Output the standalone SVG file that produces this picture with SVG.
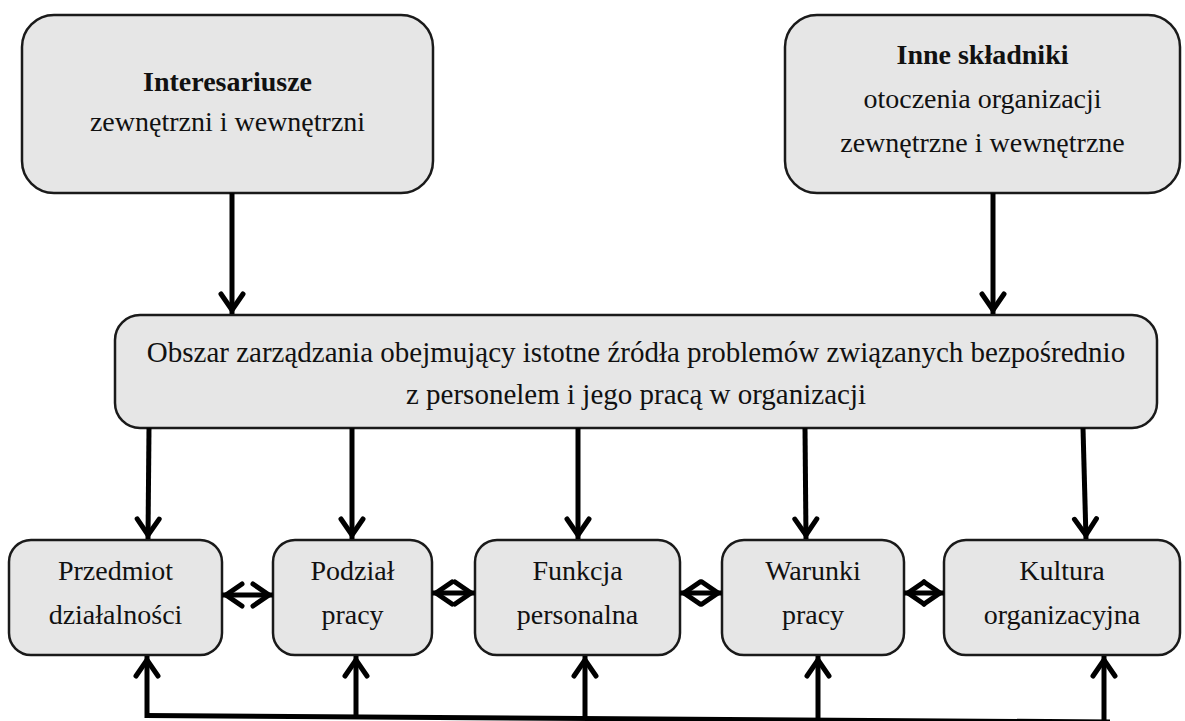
<svg xmlns="http://www.w3.org/2000/svg" width="1185" height="721" viewBox="0 0 1185 721">
  <defs>
    <style>
      .box { fill: #e6e6e6; stroke: #1a1a1a; stroke-width: 2.5; }
      .t { font-family: "Liberation Serif", "Times New Roman", serif; font-size: 28px; fill: #111; text-anchor: middle; }
      .b { font-weight: bold; }
      .m { font-size: 29px; }
      .wire { fill: none; stroke: #000; stroke-width: 5; }
      .arr { marker-end: url(#head); }
      .dbl { marker-start: url(#head); marker-end: url(#head); }
    </style>
    <marker id="head" viewBox="-24 -15 28 30" refX="0" refY="0" markerWidth="28" markerHeight="30" markerUnits="userSpaceOnUse" orient="auto-start-reverse" overflow="visible">
      <path d="M-20,-11 L-4,0 L-20,11" fill="none" stroke="#000" stroke-width="5" stroke-linecap="round" stroke-linejoin="miter"/>
    </marker>
  </defs>

  <!-- upper sources -->
  <g id="interesariusze">
    <rect class="box" x="22" y="15" width="411" height="178" rx="32"/>
    <text class="t b" x="227.5" y="91">Interesariusze</text>
    <text class="t" x="227.5" y="131">zewnętrzni i wewnętrzni</text>
  </g>
  <g id="inne-skladniki">
    <rect class="box" x="785" y="15" width="395" height="178" rx="32"/>
    <text class="t b" x="982.5" y="64">Inne składniki</text>
    <text class="t" x="982.5" y="108">otoczenia organizacji</text>
    <text class="t" x="982.5" y="152">zewnętrzne i wewnętrzne</text>
  </g>

  <!-- central management area -->
  <g id="obszar">
    <rect class="box" x="115" y="315" width="1042" height="113" rx="25"/>
    <text class="t m" x="636" y="362">Obszar zarządzania obejmujący istotne źródła problemów związanych bezpośrednio</text>
    <text class="t m" x="636" y="404">z personelem i jego pracą w organizacji</text>
  </g>

  <!-- lower areas -->
  <g id="przedmiot">
    <rect class="box" x="9" y="540" width="213" height="115" rx="22"/>
    <text class="t" x="115.5" y="580">Przedmiot</text>
    <text class="t" x="115.5" y="624">działalności</text>
  </g>
  <g id="podzial">
    <rect class="box" x="273" y="540" width="159" height="115" rx="22"/>
    <text class="t" x="352.5" y="580">Podział</text>
    <text class="t" x="352.5" y="624">pracy</text>
  </g>
  <g id="funkcja">
    <rect class="box" x="475" y="540" width="205" height="115" rx="22"/>
    <text class="t" x="577.5" y="580">Funkcja</text>
    <text class="t" x="577.5" y="624">personalna</text>
  </g>
  <g id="warunki">
    <rect class="box" x="722" y="540" width="182" height="115" rx="22"/>
    <text class="t" x="813" y="580">Warunki</text>
    <text class="t" x="813" y="624">pracy</text>
  </g>
  <g id="kultura">
    <rect class="box" x="944" y="540" width="236" height="115" rx="22"/>
    <text class="t" x="1062" y="580">Kultura</text>
    <text class="t" x="1062" y="624">organizacyjna</text>
  </g>

  <g id="connectors">
    <!-- sources into the management area -->
    <line class="wire arr" x1="232" y1="193" x2="232" y2="314"/>
    <line class="wire arr" x1="993" y1="193" x2="993" y2="314"/>
    <!-- management area into each lower area -->
    <line class="wire arr" x1="149" y1="428" x2="148" y2="539"/>
    <line class="wire arr" x1="352" y1="428" x2="352" y2="539"/>
    <line class="wire arr" x1="578" y1="428" x2="578" y2="539"/>
    <line class="wire arr" x1="805" y1="428" x2="806" y2="539"/>
    <line class="wire arr" x1="1083" y1="428" x2="1086" y2="539"/>
    <!-- links between neighbouring areas -->
    <line class="wire dbl" x1="222" y1="595" x2="273" y2="595"/>
    <line class="wire dbl" x1="432" y1="593" x2="475" y2="593"/>
    <line class="wire dbl" x1="680" y1="593" x2="722" y2="593"/>
    <line class="wire dbl" x1="904" y1="593" x2="944" y2="593"/>
    <!-- feedback rail along the bottom -->
    <path class="wire" d="M145,715.5 L1110,722"/>
    <line class="wire arr" x1="147" y1="718" x2="147" y2="656"/>
    <line class="wire arr" x1="356" y1="717" x2="356" y2="656"/>
    <line class="wire arr" x1="585" y1="719" x2="585" y2="656"/>
    <line class="wire arr" x1="818" y1="720" x2="818" y2="656"/>
    <line class="wire arr" x1="1104" y1="722" x2="1104" y2="656"/>
  </g>
</svg>
